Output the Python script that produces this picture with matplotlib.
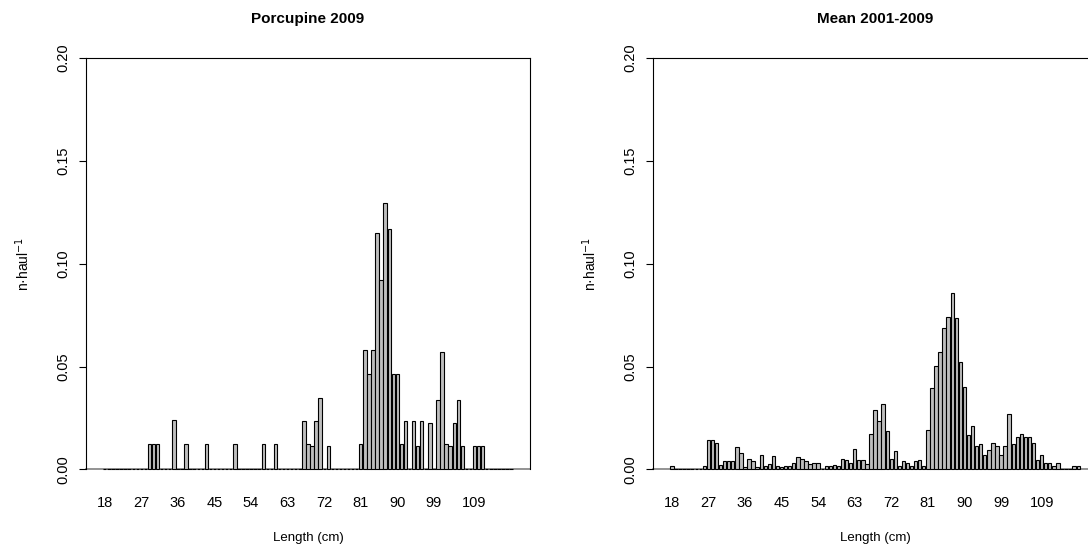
import numpy as np
import matplotlib.pyplot as plt

plt.rcParams['font.family'] = ['Liberation Sans', 'DejaVu Sans']

# Clases de talla (cm)
tallas = list(range(18, 119))
etiquetas = [18, 27, 36, 45, 54, 63, 72, 81, 90, 99, 109]

# Porcupine 2009 (n/lance)
porcupine_2009 = [
    0, 0, 0, 0, 0, 0, 0, 0, 0, 0,
    0, 0.0123, 0.0123, 0.0123, 0, 0, 0, 0.0241, 0, 0,
    0.0123, 0, 0, 0, 0, 0.0123, 0, 0, 0, 0,
    0, 0, 0.0123, 0, 0, 0, 0, 0, 0, 0.0123,
    0, 0, 0.0123, 0, 0, 0, 0, 0, 0, 0.0236,
    0.0122, 0.0113, 0.0236, 0.0346, 0, 0.0113, 0, 0, 0, 0,
    0, 0, 0, 0.0122, 0.0580, 0.0463, 0.0580, 0.1150, 0.0920, 0.1293,
    0.1170, 0.0463, 0.0463, 0.0122, 0.0236, 0, 0.0236, 0.0113, 0.0236, 0,
    0.0225, 0, 0.0338, 0.0573, 0.0122, 0.0113, 0.0225, 0.0338, 0.0113, 0,
    0, 0.0113, 0.0113, 0.0113, 0, 0, 0, 0, 0, 0,
    0]

# Media 2001-2009 (n/lance)
media_2001_2009 = [
    0.0015, 0, 0, 0, 0, 0, 0, 0, 0.0015, 0.0144,
    0.0144, 0.0131, 0.0024, 0.0042, 0.0042, 0.0042, 0.0107, 0.0081, 0.0010, 0.0050,
    0.0040, 0.0010, 0.0070, 0.0015, 0.0026, 0.0065, 0.0015, 0.0010, 0.0015, 0.0015,
    0.0030, 0.0061, 0.0052, 0.0040, 0.0026, 0.0030, 0.0030, 0, 0.0015, 0.0015,
    0.0020, 0.0015, 0.0053, 0.0044, 0.0030, 0.0102, 0.0044, 0.0044, 0.0029, 0.0173,
    0.0287, 0.0235, 0.0318, 0.0185, 0.0053, 0.0092, 0.0019, 0.0040, 0.0031, 0.0015,
    0.0040, 0.0044, 0.0015, 0.0190, 0.0394, 0.0501, 0.0569, 0.0686, 0.0742, 0.0856,
    0.0737, 0.0523, 0.0399, 0.0168, 0.0209, 0.0112, 0.0122, 0.0070, 0.0095, 0.0131,
    0.0112, 0.0070, 0.0112, 0.0272, 0.0122, 0.0159, 0.0173, 0.0159, 0.0159, 0.0131,
    0.0044, 0.0070, 0.0031, 0.0031, 0.0019, 0.0031, 0, 0, 0, 0.0015,
    0.0015]


def panel(ax, valores, titulo):
    n = len(tallas)
    # posiciones tipo barplot de R (space=0.2, width=1)
    x = 0.7 + 1.2 * np.arange(n)
    ax.bar(x, valores, width=1.0, color='#bebebe', edgecolor='black',
           linewidth=0.8, zorder=3, clip_on=False)
    w = 1.2 * n + 0.2
    ax.set_xlim(-0.04 * w, w + 0.04 * w)
    ax.set_ylim(0, 0.2)
    ax.set_yticks([0, 0.05, 0.10, 0.15, 0.20])
    ax.set_yticklabels(['0.00', '0.05', '0.10', '0.15', '0.20'],
                       rotation=90, va='center', fontsize=10.5)
    pos = [x[tallas.index(e)] for e in etiquetas]
    ax.set_xticks(pos)
    ax.set_xticklabels([str(e) for e in etiquetas], fontsize=10.5)
    ax.tick_params(axis='x', length=0, pad=19)
    ax.tick_params(axis='y', length=5, width=0.8, pad=6)
    for s in ['left', 'top', 'right']:
        ax.spines[s].set_linewidth(0.8)
    ax.spines['bottom'].set_color('#808080')
    ax.spines['bottom'].set_linewidth(1.2)
    ax.spines['bottom'].set_zorder(1)
    ax.set_title(titulo, fontsize=11, fontweight='bold', pad=25)
    ax.set_xlabel('Length (cm)', fontsize=9.5)
    ax.set_ylabel('n·haul$^{-1}$', fontsize=10)
    ax.xaxis.set_label_coords(0.5, -0.153)
    ax.yaxis.set_label_coords(-0.122, 0.5)


fig = plt.figure(figsize=(10.88, 5.56), dpi=100)
ax1 = fig.add_axes([0.0790, 0.1556, 0.4081, 0.7401])
ax2 = fig.add_axes([0.6002, 0.1556, 0.4081, 0.7401])
panel(ax1, porcupine_2009, 'Porcupine 2009')
panel(ax2, media_2001_2009, 'Mean 2001-2009')
plt.savefig('out.png', dpi=100)
